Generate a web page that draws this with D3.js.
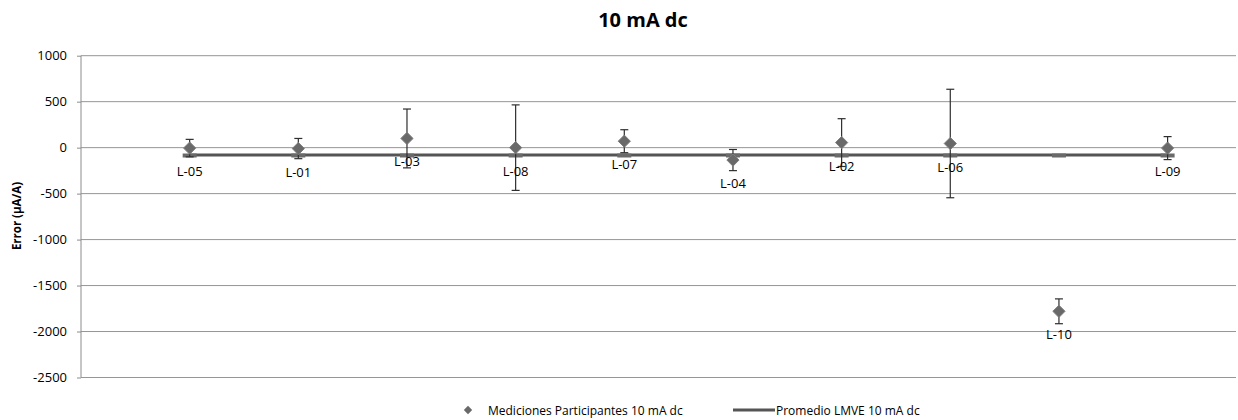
<!doctype html>
<html>
<head>
    <title>10 mA dc</title>
    <meta charset="utf-8">
    <script src="https://d3js.org/d3.v7.min.js"></script>
    <style>
        body { margin: 0; background: #fff; }
        svg { display: block; font-family: "Open Sans", sans-serif; }
    </style>
</head>
<body>
    <div id="viz"><svg width="1238" height="420"></svg></div>
    <script>
        // participants in plotting order
        let labs = ["L-05", "L-01", "L-03", "L-08", "L-07", "L-04", "L-02", "L-06", "L-10", "L-09"];
        let errVals = [-5, -10, 100, 0, 70, -135, 55, 45, -1780, -5];
        let uncert = [95, 110, 320, 465, 125, 115, 260, 590, 135, 125];
        let promedio = [-80, -80, -80, -80, -80, -80, -80, -80, -80, -80];
        let yTicks = [1000, 500, 0, -500, -1000, -1500, -2000, -2500];

        var svg = d3.select("svg");
        var plotL = 81, plotR = 1236, plotT = 55.7, plotB = 377.5;

        var x = d3.scaleLinear().domain([0, 10]).range([plotL, 1167.6]);
        var y = d3.scaleLinear().domain([-2500, 1000]).range([plotB, plotT]);

        // gridlines
        svg.append("g")
          .selectAll("line")
          .data(yTicks)
          .enter()
          .append("line")
          .attr("x1", plotL).attr("x2", plotR)
          .attr("y1", d => y(d)).attr("y2", d => y(d))
          .style("stroke", "#969696")
          .style("stroke-width", 1);

        // plain hyphen for negatives, like the original
        var yAxis = d3.axisLeft(y).tickValues(yTicks).tickSize(4).tickPadding(10).tickFormat(d => String(d));
        var ax = svg.append("g").attr("transform", "translate(" + plotL + ",0)").call(yAxis);
        ax.select(".domain").attr("d", "M0," + plotT + "V" + plotB).style("stroke", "#8c8c8c");
        ax.selectAll(".tick line").style("stroke", "#8c8c8c");
        ax.selectAll("text").style("font-size", "13px").style("fill", "#000").style("font-family", "Open Sans");

        // average line
        var idx = d3.range(labs.length);
        svg.append("path")
          .datum(idx)
          .attr("d", d3.line().x(i => x(i + 1)).y(i => y(promedio[i])))
          .style("fill", "none")
          .style("stroke", "#555")
          .style("stroke-width", 3);

        svg.append("g")
          .selectAll("rect")
          .data(idx)
          .enter()
          .append("rect")
          .attr("x", i => x(i + 1) - 7)
          .attr("y", i => y(promedio[i]) - 1.5)
          .attr("width", 14).attr("height", 4)
          .style("fill", "#6a6a6a");

        // error bars
        var eb = svg.append("g").style("stroke", "#2e2e2e").style("stroke-width", 1.2);
        idx.forEach(function(i) {
            var cx = x(i + 1), hi = y(errVals[i] + uncert[i]), lo = y(errVals[i] - uncert[i]);
            eb.append("line").attr("x1", cx).attr("x2", cx).attr("y1", hi).attr("y2", lo);
            eb.append("line").attr("x1", cx - 4).attr("x2", cx + 4).attr("y1", hi).attr("y2", hi);
            eb.append("line").attr("x1", cx - 4).attr("x2", cx + 4).attr("y1", lo).attr("y2", lo);
        });

        // diamonds
        var diamond = d3.symbol().type(d3.symbolDiamond2).size(95);
        svg.append("g")
          .selectAll("path")
          .data(idx)
          .enter()
          .append("path")
          .attr("d", diamond)
          .attr("transform", i => "translate(" + x(i + 1) + "," + y(errVals[i]) + ")")
          .style("fill", "#696969")
          .style("stroke", "#7d7d7d")
          .style("stroke-width", 1);

        // point labels
        svg.append("g")
          .selectAll("text")
          .data(idx)
          .enter()
          .append("text")
          .attr("x", i => x(i + 1))
          .attr("y", i => y(errVals[i]) + 23)
          .attr("text-anchor", "middle")
          .attr("dominant-baseline", "central")
          .style("font-size", "13px")
          .text(i => labs[i]);

        // title
        svg.append("text")
          .attr("x", 643).attr("y", 27)
          .attr("text-anchor", "middle")
          .style("font-size", "20px")
          .style("font-weight", "bold")
          .text("10 mA dc");

        svg.append("text")
          .attr("transform", "translate(21,216) rotate(-90)")
          .attr("text-anchor", "middle")
          .style("font-size", "11.5px")
          .style("font-weight", "bold")
          .text("Error (µA/A)");

        // legend
        var lg = svg.append("g");
        lg.append("path").attr("d", d3.symbol().type(d3.symbolDiamond2).size(45))
          .attr("transform", "translate(468,410)")
          .style("fill", "#696969");
        lg.append("text").attr("x", 488).attr("y", 410).attr("dominant-baseline", "central")
          .style("font-size", "12px").text("Mediciones Participantes 10 mA dc");
        lg.append("line").attr("x1", 733).attr("x2", 775).attr("y1", 410).attr("y2", 410)
          .style("stroke", "#555").style("stroke-width", 3);
        lg.append("text").attr("x", 776).attr("y", 410).attr("dominant-baseline", "central")
          .style("font-size", "12px").text("Promedio LMVE 10 mA dc");
    </script>
</body>
</html>
